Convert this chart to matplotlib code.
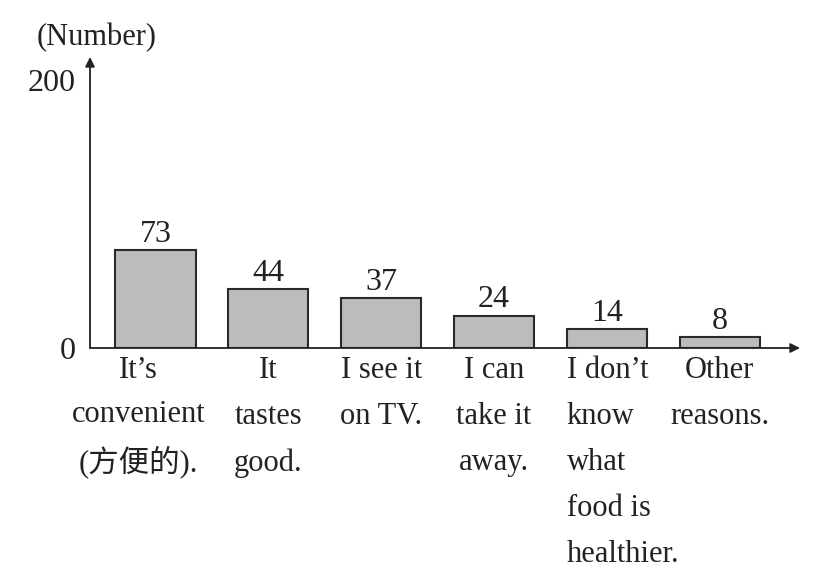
import matplotlib
matplotlib.use('Agg')
from matplotlib import pyplot as plt

# data
reasons = ["It\u2019s\nconvenient\n(方便的).", "It\ntastes\ngood.", "I see it\non TV.",
           "I can\ntake it\naway.", "I don\u2019t\nknow\nwhat\nfood is\nhealthier.", "Other\nreasons."]
counts = [73, 44, 37, 24, 14, 8]
y_ticks = [0, 200]

FONT = ['Liberation Serif', 'Noto Sans CJK SC']
INK = '#222222'

fig = plt.figure(figsize=(8.19, 5.78), dpi=100)
ax = fig.add_axes([90 / 819, 230 / 578, 710 / 819, 291 / 578])

x = list(range(len(counts)))
ax.bar(x, counts, width=0.71, color='#bcbcbc', edgecolor='#2a2a2a', linewidth=1.5, zorder=2)

ax.set_xlim(-0.58, 5.71)
ax.set_ylim(0, 217)

for s in ax.spines.values():
    s.set_visible(False)

# axes with arrow heads
ax.annotate('', xy=(0, 1), xytext=(0, 0), xycoords='axes fraction',
            arrowprops=dict(arrowstyle='-|>', color=INK, lw=1.3, mutation_scale=14, shrinkA=0, shrinkB=0))
ax.annotate('', xy=(1, 0), xytext=(0, 0), xycoords='axes fraction',
            arrowprops=dict(arrowstyle='-|>', color=INK, lw=1.3, mutation_scale=14, shrinkA=0, shrinkB=0))

ax.set_xticks([])
ax.set_yticks(y_ticks)
ax.set_yticklabels([str(t) for t in y_ticks], family=FONT, fontsize=23, color=INK)
ax.tick_params(axis='y', length=0, pad=10)

# value labels
for i, v in enumerate(counts):
    ax.annotate(str(v), xy=(i, v), xytext=(0, 1), textcoords='offset points',
                ha='center', va='bottom', family=FONT, fontsize=23, color=INK)

# category labels
for i, lab in enumerate(reasons):
    if i == 4:
        ax.annotate(lab, xy=(i - 0.355, 0), xytext=(0, -6), textcoords='offset points',
                    ha='left', va='top', multialignment='left', family=FONT, fontsize=22,
                    color=INK, linespacing=1.77)
    else:
        dx = -12 if i == 0 else 0
        ls = 1.65 if i == 0 else 1.77
        ax.annotate(lab, xy=(i, 0), xytext=(dx, -6), textcoords='offset points',
                    ha='center', va='top', multialignment='center', family=FONT, fontsize=22,
                    color=INK, linespacing=ls)

fig.text(97 / 819, 1 - 38 / 578, '(Number)', ha='center', va='center',
         family=FONT, fontsize=22, color=INK)

fig.savefig('out.png', dpi=100)
